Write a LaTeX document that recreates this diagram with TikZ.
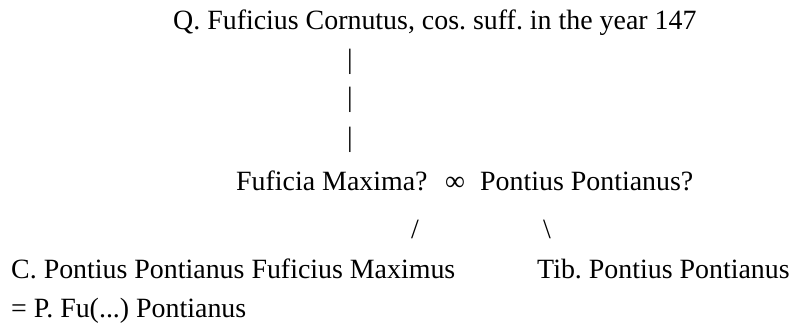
\documentclass[tikz,border=0pt]{standalone}
\usepackage{fontspec}
\setmainfont{Liberation Serif}
\usetikzlibrary{positioning}
\frenchspacing
\definecolor{Ink}{HTML}{000000}
\tikzset{
    person/.style={inner sep=0pt, text=Ink, font=\fontsize{27.9}{33}\selectfont},
    link/.style={inner sep=0pt, text=Ink, font=\fontsize{27.9}{33}\selectfont},
}
\begin{document}
\begin{tikzpicture}[x=1pt, y=1pt]
            \useasboundingbox (0,0) rectangle (790,322);

            % Capostipite
            \node[person, anchor=base west] (consul) at (173,292) {Q. Fuficius Cornutus, cos. suff. in the year 147};

            % Linea di discendenza
            \node[link, anchor=base] (bar1) at (350,253) {|};
            \node[link, anchor=base] (bar2) at (350,215) {|};
            \node[link, anchor=base] (bar3) at (350,176) {|};

            % Coppia
            \node[person, anchor=base west] (wife) at (236,132) {Fuficia Maxima?};
            \node[person, anchor=base] (marriage) at (455,132) {∞};
            \node[person, anchor=base west] (husband) at (480,132) {Pontius Pontianus?};

            % Rami verso i figli
            \node[link] (slashL) at (415,93) {/};
            \node[link] (slashR) at (547,93) {\textbackslash};

            % Figli
            \node[person, anchor=base west] (sonA) at (11,44) {C. Pontius Pontianus Fuficius Maximus};
            \node[person, anchor=base west] (sonAalt) at (11,5) {= P. Fu(...) Pontianus};
            \node[person, anchor=base west] (sonB) at (537,44) {Tib. Pontius Pontianus};

        \end{tikzpicture}
\end{document}
